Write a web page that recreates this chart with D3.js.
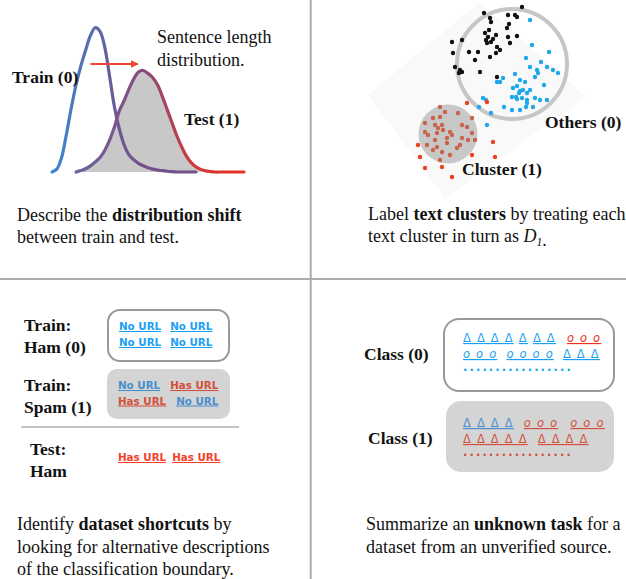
<!DOCTYPE html>
<html><head><meta charset="utf-8">
<script src="https://cdn.jsdelivr.net/npm/d3@7"></script>
<style>
html,body{margin:0;padding:0;background:#fff}
svg{display:block}
</style>
</head><body>
<svg id="chart" width="626" height="579"></svg>
<script>
// ---------- DATA ----------
// Panel 1: sentence-length densities (relative), sampled at length bins 0..40
const lengthBins = d3.range(0, 41);
const trainDensity = [0,0.02,0.1,0.26,0.44,0.6,0.73,0.84,0.94,0.995,0.97,0.86,0.66,0.45,0.3,0.19,0.12,0.085,0.06,0.043,0.03,0.02,0.014,0.009,0.005,0.002,0,0,0,0,0,0,0,0,0,0,0,0,0,0,0];
const testDensity  = [null,null,null,null,null,0,0.01,0.022,0.042,0.07,0.1,0.15,0.22,0.31,0.42,0.49,0.57,0.64,0.69,0.70,0.68,0.65,0.6,0.52,0.43,0.34,0.25,0.175,0.11,0.065,0.035,0.018,0.008,0.003,0,0,0,0,0,0,0];

// Panel 2: 2-D text embedding (projection units)
const othersBlack = [[174,13],[180,18],[181,22],[198,15],[205,15],[207,17],[199,24],[197,28],[175,33],[178,37],[181,42],[183,39],[186,35],[177,43],[187,47],[190,50],[186,53],[180,57],[168,52],[159,52],[143,53],[142,42],[152,40],[150,70],[152,72],[170,72],[187,77],[198,37],[207,36],[200,43],[212,7],[149,73],[176,40],[179,30],[165,60],[145,67]];
const othersBlue = [[220,20],[222,45],[239,52],[216,58],[220,67],[231,62],[237,67],[243,70],[248,73],[227,70],[228,73],[225,77],[205,74],[210,80],[215,82],[207,86],[203,88],[210,91],[213,90],[209,93],[217,93],[206,97],[202,97],[207,99],[212,98],[217,100],[225,98],[230,100],[237,100],[234,85],[193,78],[190,82],[187,82],[220,90],[217,103],[216,107],[223,107],[210,110],[202,110],[194,107],[173,98],[176,100],[181,113],[177,125],[169,107]];
const clusterIn = [[130,107],[135,112],[148,113],[130,117],[123,118],[115,123],[125,125],[132,125],[128,128],[133,130],[140,132],[142,135],[127,133],[125,140],[137,138],[137,143],[127,147],[123,150],[132,152],[140,155],[130,160],[152,125],[157,127],[162,133],[152,138],[158,140],[165,140],[150,145],[147,148],[115,132],[118,135],[117,145],[162,118]];
const clusterOut = [[157,103],[177,102],[108,145],[110,157],[115,168],[132,167],[142,177],[183,142],[185,157],[162,155]];
const othersRing = {cx:202, cy:64, r:55};
const clusterDisk = {cx:138, cy:134, r:29.5};

// Panel 3: URL tokens
const hamTrainRows  = [["No URL","No URL"],["No URL","No URL"]];
const spamTrainRows = [["No URL","Has URL"],["Has URL","No URL"]];
const hamTestRows   = [["Has URL","Has URL"]];

// Panel 4: symbol tokens
const class0Rows = [
  [{t:"Δ Δ Δ Δ",k:"b"},{t:"Δ",k:"b",g:5},{t:"Δ Δ",k:"b",g:5},{t:"o o o",k:"r",g:11}],
  [{t:"o o o",k:"b"},{t:"o o o o",k:"b",g:9},{t:"Δ Δ Δ",k:"b",g:9}],
  [{t:".................",k:"b",dots:true}]
];
const class1Rows = [
  [{t:"Δ Δ Δ Δ",k:"b"},{t:"o o o",k:"r",g:10},{t:"o o o",k:"r",g:12}],
  [{t:"Δ Δ Δ Δ Δ",k:"r"},{t:"Δ Δ Δ Δ",k:"r",g:10}],
  [{t:".................",k:"r",dots:true}]
];

// Captions
const captions = {
  p1: [[{t:"Describe the "},{t:"distribution shift",b:1}],[{t:"between train and test."}]],
  p2: [[{t:"Label "},{t:"text clusters",b:1},{t:" by treating each"}],[{t:"text cluster in turn as "},{t:"D",i:1},{t:"1",i:1,sub:1},{t:"."}]],
  p3: [[{t:"Identify "},{t:"dataset shortcuts",b:1},{t:" by"}],[{t:"looking for alternative descriptions"}],[{t:"of the classification boundary."}]],
  p4: [[{t:"Summarize an "},{t:"unknown task",b:1},{t:" for a"}],[{t:"dataset from an unverified source."}]]
};

// ---------- DRAW ----------
const svg = d3.select("#chart");
const SERIF = "'Liberation Serif','Times New Roman',serif";
const SANS = "'DejaVu Sans',sans-serif";

function rich(g, x, y, lines, lh, size) {
  lines.forEach((segs, li) => {
    const t = g.append("text").attr("x", x).attr("y", y + li*lh)
      .attr("font-family", SERIF).attr("font-size", size).attr("fill", "#111");
    segs.forEach(s => {
      const ts = t.append("tspan").text(s.t);
      if (s.b) ts.attr("font-weight", "bold");
      if (s.i) ts.attr("font-style", "italic");
      if (s.sub) ts.attr("font-size", size*0.65).attr("dy", 4);
    });
  });
}
function label(g, x, y, lines, lh) {
  lines.forEach((l, i) => g.append("text").attr("x", x).attr("y", y + i*lh)
    .attr("font-family", SERIF).attr("font-size", 17.5).attr("font-weight", "bold")
    .attr("fill", "#111").text(l));
}

// dividers
svg.append("line").attr("x1",310.7).attr("x2",310.7).attr("y1",0).attr("y2",579).attr("stroke","#ababab").attr("stroke-width",2);
svg.append("line").attr("x1",0).attr("x2",626).attr("y1",279).attr("y2",279).attr("stroke","#ababab").attr("stroke-width",2);

// ---- Panel 1 ----
const p1 = svg.append("g");
const xLen = d3.scaleLinear().domain([0,40]).range([52,244]);
const yDen = d3.scaleLinear().domain([0,1]).range([172,27]);
const defs = svg.append("defs");
const gTrain = defs.append("linearGradient").attr("id","gTrain").attr("gradientUnits","userSpaceOnUse")
  .attr("x1",52).attr("x2",140).attr("y1",0).attr("y2",0);
gTrain.append("stop").attr("offset",0).attr("stop-color","#3a88d0");
gTrain.append("stop").attr("offset",0.45).attr("stop-color","#5a6cae");
gTrain.append("stop").attr("offset",0.75).attr("stop-color","#6a5a94");
gTrain.append("stop").attr("offset",1).attr("stop-color","#74508a");
const gTest = defs.append("linearGradient").attr("id","gTest").attr("gradientUnits","userSpaceOnUse")
  .attr("x1",80).attr("x2",244).attr("y1",0).attr("y2",0);
gTest.append("stop").attr("offset",0).attr("stop-color","#6a64a0");
gTest.append("stop").attr("offset",0.4).attr("stop-color","#8a4a78");
gTest.append("stop").attr("offset",0.7).attr("stop-color","#d03a38");
gTest.append("stop").attr("offset",1).attr("stop-color","#e8301e");
defs.append("marker").attr("id","arrowR").attr("viewBox","0 0 10 10").attr("refX",9).attr("refY",5)
  .attr("markerWidth",4).attr("markerHeight",4).attr("orient","auto")
  .append("path").attr("d","M0,0L10,5L0,10z").attr("fill","#ef4634");

const trainPts = lengthBins.map((x,i)=>[x, trainDensity[i]]).filter(d=>d[1]!==null && d[0]<=30);
const testPts = lengthBins.map((x,i)=>[x, testDensity[i]]).filter(d=>d[1]!==null);
const area = d3.area().x(d=>xLen(d[0])).y0(yDen(0)).y1(d=>yDen(d[1])).curve(d3.curveCatmullRom);
const line = d3.line().x(d=>xLen(d[0])).y(d=>yDen(d[1])).curve(d3.curveCatmullRom);
p1.append("path").datum(testPts).attr("d",area).attr("fill","#c8c8c8");
p1.append("path").datum(trainPts).attr("d",line).attr("fill","none").attr("stroke","url(#gTrain)").attr("stroke-width",3.2).attr("stroke-linecap","round");
p1.append("path").datum(testPts).attr("d",line).attr("fill","none").attr("stroke","url(#gTest)").attr("stroke-width",3.2).attr("stroke-linecap","round");
p1.append("line").attr("x1",xLen(8)).attr("x2",xLen(17.9)).attr("y1",64).attr("y2",64)
  .attr("stroke","#ef4634").attr("stroke-width",2).attr("marker-end","url(#arrowR)");
p1.append("text").attr("x",157).attr("y",43).attr("font-family",SERIF).attr("font-size",18).attr("fill","#111").text("Sentence length");
p1.append("text").attr("x",157).attr("y",66).attr("font-family",SERIF).attr("font-size",18).attr("fill","#111").text("distribution.");
label(p1, 12, 83, ["Train (0)"], 0);
label(p1, 184, 125, ["Test (1)"], 0);
rich(p1, 17, 221, captions.p1, 21.5, 18);

// ---- Panel 2 ----
const p2 = svg.append("g");
const sx = d3.scaleLinear().domain([0,316]).range([310,626]);
const sy = d3.scaleLinear().domain([0,279]).range([0,279]);
p2.append("polygon").attr("points",[[58,95],[170,2],[276,97],[135,198]].map(d=>[sx(d[0]),sy(d[1])].join(",")).join(" "))
  .attr("fill","#f9f9f9");
p2.append("circle").attr("cx",sx(clusterDisk.cx)).attr("cy",sy(clusterDisk.cy)).attr("r",clusterDisk.r).attr("fill","#c8c8c8");
p2.append("circle").attr("cx",sx(othersRing.cx)).attr("cy",sy(othersRing.cy)).attr("r",othersRing.r).attr("fill","none").attr("stroke","#c6c6c6").attr("stroke-width",4);
function pts(data, color) {
  p2.selectAll(null).data(data).enter().append("circle")
    .attr("cx",d=>sx(d[0])).attr("cy",d=>sy(d[1])).attr("r",2.2).attr("fill",color);
}
pts(othersBlack, "#111");
pts(othersBlue, "#1ea8ec");
pts(clusterIn, "#c9644a");
pts(clusterOut, "#ee4020");
label(p2, 545, 128, ["Others (0)"], 0);
label(p2, 462, 175, ["Cluster (1)"], 0);
rich(p2, 368, 220, captions.p2, 21.5, 18);

// ---- Panel 3 ----
const p3 = svg.append("g");
p3.append("rect").attr("x",108).attr("y",310).attr("width",121).attr("height",51).attr("rx",12)
  .attr("fill","#fff").attr("stroke","#999").attr("stroke-width",2);
p3.append("rect").attr("x",107).attr("y",369).attr("width",123).attr("height",50).attr("rx",10).attr("fill","#d4d4d4");
p3.append("line").attr("x1",21).attr("x2",239).attr("y1",427).attr("y2",427).attr("stroke","#b0b0b0").attr("stroke-width",1.5);
label(p3, 24, 331, ["Train:","Ham (0)"], 22);
label(p3, 24, 391, ["Train:","Spam (1)"], 22);
label(p3, 30, 455, ["Test:","Ham"], 22);
function urlRows(rows, x0, y0, lh, gap, colorFor) {
  rows.forEach((r, ri) => {
    let x = x0;
    r.forEach(tok => {
      const t = p3.append("text").attr("x",x).attr("y",y0+ri*lh).attr("font-family",SANS)
        .attr("font-size",10.3).attr("font-weight","bold").attr("fill",colorFor(tok)).attr("text-decoration","underline").text(tok);
      x += t.node().getComputedTextLength() + gap;
    });
  });
}
urlRows(hamTrainRows, 119, 330, 16, 9, ()=>"#1a9ff5");
urlRows(spamTrainRows, 118, 389, 15.5, 10, t=> t==="No URL" ? "#4a8fcd" : "#d2503c");
urlRows(hamTestRows, 118, 461, 16, 6, ()=>"#f5402a");
rich(p3, 17, 530, captions.p3, 22.5, 18);

// ---- Panel 4 ----
const p4 = svg.append("g");
p4.append("rect").attr("x",444).attr("y",319).attr("width",170).attr("height",72).attr("rx",15)
  .attr("fill","#fff").attr("stroke","#999").attr("stroke-width",2);
p4.append("rect").attr("x",446).attr("y",401).attr("width",168).attr("height",71).attr("rx",15).attr("fill","#d4d4d4");
label(p4, 364, 360, ["Class (0)"], 0);
label(p4, 368, 444, ["Class (1)"], 0);
function symRows(rows, x0, y0, lhs, pal) {
  let y = y0;
  rows.forEach((r, ri) => {
    let x = x0;
    r.forEach(seg => {
      x += (seg.g || 0);
      const t = p4.append("text").attr("x",x).attr("y",y).attr("font-family",SANS)
        .attr("font-size",11.5).attr("fill",pal[seg.k])
        .attr("letter-spacing", seg.dots ? 2.1 : 1.2)
        .attr("font-weight", seg.dots ? "bold" : "normal")
        .attr("font-style", seg.t.includes("o") ? "italic" : "normal")
        .attr("text-decoration", seg.dots ? "none" : "underline").text(seg.t);
      x += t.node().getComputedTextLength();
    });
    y += lhs[ri] || 0;
  });
}
symRows(class0Rows, 463, 342, [16, 13], {b:"#1a9ff5", r:"#f0301e"});
symRows(class1Rows, 463, 427, [16, 13], {b:"#4a8fcd", r:"#d2503c"});
rich(p4, 366, 530, captions.p4, 22.5, 18);
</script>
</body></html>
